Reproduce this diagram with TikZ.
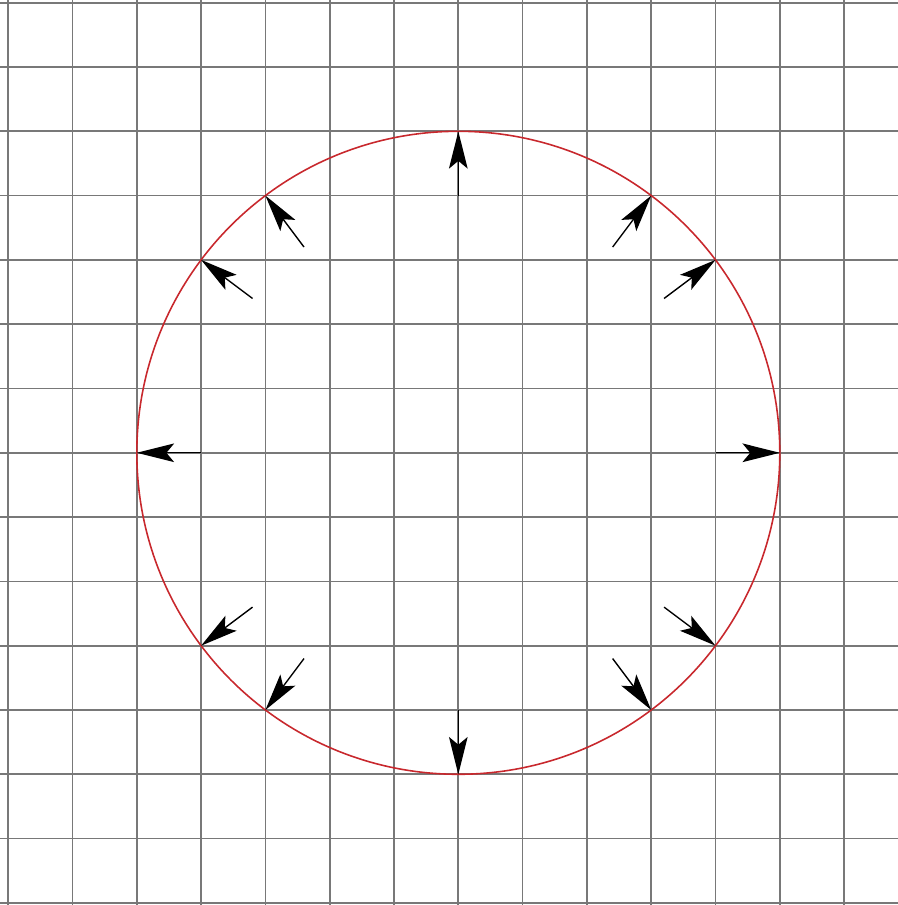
\documentclass[tikz,border=0pt]{standalone}
\usetikzlibrary{arrows.meta,calc}
\definecolor{gridgray}{RGB}{120,120,120}
\definecolor{circred}{RGB}{200,40,45}
\tikzset{
  gridline/.style={gridgray, line width=0.75pt},
  circline/.style={circred, line width=0.7pt},
  radarrow/.style={black, line width=0.6pt, -{Stealth[length=0.58cm, width=0.29cm, inset=0.12cm]}}
}
\begin{document}
\begin{tikzpicture}
\useasboundingbox (-7.128,-7.033) rectangle (6.823,7.042);
% grid
\foreach \x in {-7,...,6} \draw[gridline] (\x,-7.2) -- (\x,7.2);
\foreach \y in {-7,...,7} \draw[gridline] (-7.3,\y) -- (7,\y);
% circle
\coordinate (O) at (0,0);
\draw[circline] (O) circle (5);
% arrows: radial, unit length, ending on the circle
\foreach \n/\px/\py in {a/0/5, b/3/4, c/4/3, d/5/0, e/4/-3, f/3/-4, g/0/-5, h/-3/-4, i/-4/-3, j/-5/0, k/-4/3, l/-3/4}{
  \coordinate (tip\n) at (\px,\py);
  \coordinate (tail\n) at ($0.8*(\px,\py)$);
  \draw[radarrow] (tail\n) -- (tip\n);
}
\end{tikzpicture}
\end{document}
